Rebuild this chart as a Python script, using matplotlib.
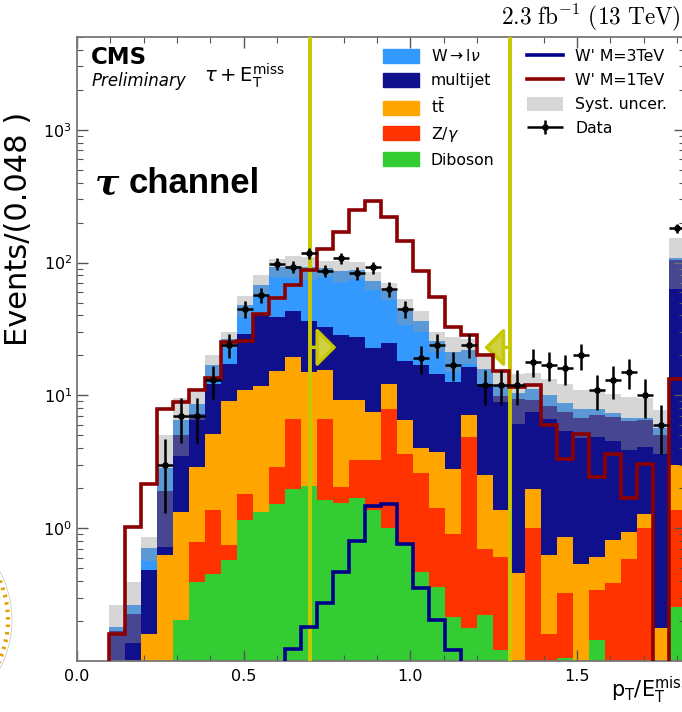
import numpy as np
import matplotlib
matplotlib.use('Agg')
import matplotlib.pyplot as plt
from matplotlib.patches import Patch, Circle
from matplotlib.lines import Line2D
from matplotlib.legend_handler import HandlerErrorbar
from matplotlib.ticker import MultipleLocator, FixedLocator, LogLocator, NullFormatter
from matplotlib.transforms import IdentityTransform

# 38 bins of width 0.048, last bin (1.776-1.824) holds the overflow
bin_width = 0.048
edges = np.arange(39) * bin_width

# stacked backgrounds (events per bin), bottom to top
diboson = [0, 0, 0, 0, 0, 0, 0.203, 0.391, 0.45, 0.574, 1.15, 1.33, 1.53, 1.99, 2.07, 1.62, 1.55, 1.70, 1.37,
           1.0, 0.745, 0.47, 0.362, 0.215, 0.176, 0.222, 0.121, 0, 0, 0, 0.105, 0, 0.144, 0, 0, 0, 0, 0.256]
zgamma = [0, 0, 0, 0, 0, 0, 0, 0.398, 0.92, 0.171, 0.67, 0, 1.36, 4.71, 0, 5.08, 0.50, 1.55, 1.88,
          6.9, 2.9, 2.13, 1.05, 0.695, 4.68, 0.478, 0.49, 0, 1.01, 0.161, 0.218, 0, 0.198, 0.384, 0.59, 1.01, 0, 1.114]
ttbar = [0, 0, 0, 0, 0.161, 0.627, 1.127, 2.10, 3.78, 8.26, 9.18, 10.37, 12.51, 12.7, 12.93, 8.9, 7.15, 6.05, 4.25,
         4.3, 2.85, 1.4, 2.34, 1.89, 2.22, 1.8, 0.76, 0.456, 0.98, 0.466, 0.538, 0.54, 0.268, 0.426, 0.35, 0.28, 0.176, 1.61]
multijet = [0, 0, 0.169, 0.224, 0.322, 1.283, 3.67, 4.41, 7.05, 8.3, 18.1, 28.3, 23.4, 23.6, 21.6, 17.4, 19.1, 18.1, 15.3,
            12.5, 11.8, 12.8, 10.85, 9.8, 9.2, 9.7, 8.6, 8.94, 7.2, 7.67, 6.64, 6.26, 6.49, 6.09, 5.46, 5.21, 4.82, 102]
wlnu = [0, 0, 0.012, 0.040, 0.231, 0.95, 1.5, 1.25, 4.85, 9.1, 18.5, 28, 53.2, 52, 55.4, 58, 58.7, 60.6, 50.4,
        36.3, 25.2, 19.8, 11.0, 8.6, 5.7, 3.7, 2.0, 0.95, 1.9, 1.7, 1.3, 1.1, 0.8, 0.5, 0.4, 0.3, 0.7, 3]
syst = [0, 0, 0.083, 0.127, 0.147, 2.14, 3.0, 2.05, 2.95, 3.55, 8.9, 12, 14.4, 18, 18, 12.5, 15, 13, 11.4,
        9, 9.8, 6.4, 4.3, 6.2, 4.7, 3.5, 3.0, 4.25, 3.6, 3.3, 3.4, 3.1, 3.0, 2.9, 2.9, 2.7, 2.1, 45]

# signal shapes
wprime_1tev = [0, 0, 0.161, 1.03, 2.17, 7.9, 8.9, 10.9, 13.6, 25.2, 25.9, 41.1, 54.2, 67.9, 88, 127, 171, 249, 293,
               219, 146, 86, 54.8, 32.6, 28.3, 20.0, 15.2, 11.6, 12.0, 6.0, 3.34, 5.09, 2.43, 3.64, 1.70, 3.07, 0, 13.3]
wprime_3tev = [0, 0, 0, 0, 0, 0, 0, 0, 0, 0, 0, 0, 0, 0.124, 0.179, 0.275, 0.47, 0.80, 1.46,
               1.53, 0.76, 0.356, 0.203, 0.122, 0, 0, 0, 0, 0, 0, 0, 0, 0, 0, 0, 0, 0, 0]

# data (first filled bin is index 5)
data_first_bin = 5
data = [3, 7, 7, 13, 24, 45, 57, 98, 93, 118, 87, 108, 83, 92,
        63, 45, 19, 24, 17, 24, 12, 12, 12, 18, 17, 16, 20, 11, 13, 15, 10, 6, 181]
data_err = [1.7, 2.6, 2.6, 3.6, 4.9, 6.7, 7.5, 9.9, 9.6, 10.9, 9.3, 10.4, 9.1, 9.6,
            7.9, 6.7, 4.4, 4.9, 4.1, 4.9, 3.5, 3.5, 3.5, 4.2, 4.1, 4.0, 4.5, 3.3, 3.6, 3.9, 3.2, 2.4, 13.5]

cut_low, cut_high = 0.7, 1.3

colors = {
    'wlnu': '#3399ff',
    'multijet': '#10108c',
    'ttbar': '#ffa500',
    'zgamma': '#ff3300',
    'diboson': '#33cc33',
}
yellow = '#c8c800'
floor = 1e-3

plt.rcParams['font.family'] = 'DejaVu Sans'
fig = plt.figure(figsize=(6.82, 7.12), dpi=100)
ax = fig.add_axes([77 / 682, 51 / 712, 608 / 682, 624 / 712])

# stacked histogram
layers = [('diboson', diboson), ('zgamma', zgamma), ('ttbar', ttbar),
          ('multijet', multijet), ('wlnu', wlnu)]
bottom = np.zeros(len(edges) - 1)
for name, vals in layers:
    top = bottom + np.asarray(vals, dtype=float)
    ax.stairs(np.maximum(top, floor), edges, baseline=np.maximum(bottom, floor),
              fill=True, color=colors[name], lw=0, zorder=1)
    bottom = top
total = bottom
err = np.asarray(syst)
ax.stairs(np.maximum(total + err, floor), edges, baseline=np.maximum(total - err, floor),
          fill=True, color='0.6', alpha=0.4, lw=0, zorder=2)

# selection window
for xc in (cut_low, cut_high):
    ax.axvline(xc, color=yellow, lw=2.8, zorder=3)
arrow_y = 23
for x0, x1 in ((cut_low, cut_low + 0.078), (cut_high, cut_high - 0.078)):
    ax.annotate('', xy=(x1, arrow_y), xytext=(x0, arrow_y),
                arrowprops=dict(arrowstyle='-|>,head_length=0.6,head_width=0.6', mutation_scale=20,
                                lw=2.5, fc='#d0d040', ec=yellow, shrinkA=0, shrinkB=0), zorder=3)

# signals
ax.stairs(np.maximum(wprime_3tev, floor), edges, baseline=None, color='#00008b', lw=2.6, zorder=4)
ax.stairs(np.maximum(wprime_1tev, floor), edges, baseline=None, color='#8b0000', lw=2.6, zorder=4)

# data
centers = 0.5 * (edges[:-1] + edges[1:])
xd = centers[data_first_bin:data_first_bin + len(data)]
data_h = ax.errorbar(xd, data, xerr=bin_width / 2, yerr=data_err, fmt='o', color='k',
                     ms=3.8, elinewidth=1.8, capsize=0, zorder=5)

ax.set_yscale('log')
ax.set_ylim(0.1, 5000)
ax.set_xlim(0, edges[-1])
ax.set_xticks([0.0, 0.5, 1.0, 1.5])
ax.set_xticklabels(['0.0', '0.5', '1.0', '1.5'])
ax.xaxis.set_minor_locator(MultipleLocator(0.1))
ax.yaxis.set_major_locator(FixedLocator([1, 10, 100, 1000]))
ax.yaxis.set_minor_locator(LogLocator(base=10, subs=np.arange(2, 10), numticks=20))
ax.yaxis.set_minor_formatter(NullFormatter())
ax.tick_params(which='both', direction='in', top=True, right=True, labelsize=11.5, color='#555555')
ax.tick_params(which='major', length=8, width=1)
ax.tick_params(which='minor', length=4, width=0.8)
ax.tick_params(axis='x', pad=6)
for sp in ax.spines.values():
    sp.set_color('#777777')
    sp.set_linewidth(1.3)

# legend
handles = [Patch(color=colors['wlnu']), Patch(color=colors['multijet']), Patch(color=colors['ttbar']),
           Patch(color=colors['zgamma']), Patch(color=colors['diboson']),
           Line2D([], [], color='#00008b', lw=2.6), Line2D([], [], color='#8b0000', lw=2.6),
           Patch(facecolor='0.6', alpha=0.4, lw=0), data_h]
labels = [r'W$\rightarrow$l$\nu$', 'multijet', r't$\bar{\mathrm{t}}$', r'Z/$\gamma$', 'Diboson',
          "W' M=3TeV", "W' M=1TeV", 'Syst. uncer.', 'Data']
ax.legend(handles, labels, ncol=2, loc='upper left', bbox_to_anchor=(0.503, 0.982), frameon=False,
          fontsize=11.3, borderpad=0, borderaxespad=0, handlelength=2.3, handleheight=1.0,
          labelspacing=0.55, columnspacing=2.1, handletextpad=0.75,
          handler_map={data_h: HandlerErrorbar(xerr_size=1.15, yerr_size=0.45)})

# texts
def px(x, y):
    return x / 682, 1 - y / 712

fig.text(*px(91, 58), 'CMS', weight='bold', size=16.5, va='center', ha='left')
fig.text(*px(92, 81), 'Preliminary', style='italic', size=12, va='center', ha='left')
fig.text(*px(204, 76), r'$\tau+\mathrm{E}_{\mathrm{T}}^{\mathrm{miss}}$', size=14, va='center', ha='left')
fig.text(*px(95, 193), '\u03c4', size=26, va='baseline', ha='left', weight='bold',
         family='DejaVu Serif', style='italic')
fig.text(*px(129, 193), 'channel', size=25, va='baseline', ha='left', weight='bold', family='Liberation Sans')
fig.text(*px(681, 17), r'$\mathrm{2.3\ fb^{-1}\ (13\ TeV)}$', math_fontfamily='cm', size=16.8,
         va='center', ha='right')
fig.text(*px(611, 690), r'$\mathrm{p_T/E_T^{miss}}$', size=15, va='center', ha='left')
fig.text(*px(19, 229), 'Events/(0.048 )', rotation=90, size=22, va='center', ha='center')

# edge of the neighbouring CMS logo
fig.add_artist(Circle((-92, 92), 100, transform=IdentityTransform(), fill=False, ec='#e0a000',
                      lw=3, ls=(0, (0.6, 1.2))))
fig.add_artist(Circle((-92, 92), 104, transform=IdentityTransform(), fill=False, ec='#cccccc', lw=0.6))

fig.savefig('out.png', dpi=100)
